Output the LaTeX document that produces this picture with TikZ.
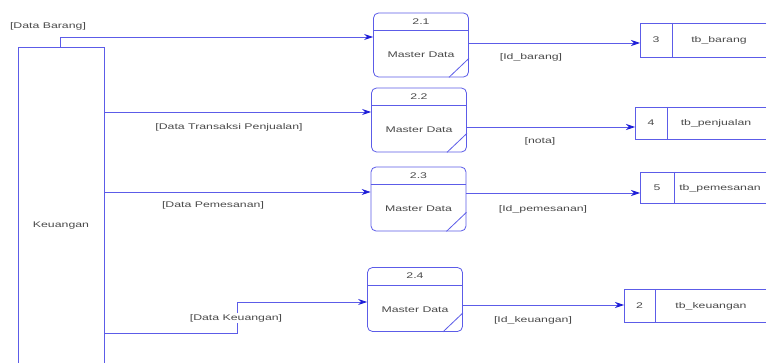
\documentclass[tikz,border=0pt]{standalone}
\usepackage{fontspec}
\setmainfont{Liberation Sans}
\usetikzlibrary{arrows.meta,calc}
\definecolor{ln}{HTML}{5C5CE8}
\definecolor{ah}{HTML}{1E1ED8}
\definecolor{tx}{HTML}{4A4A4A}
\newcommand\wtxt[1]{\scalebox{1.5}[1]{#1}}
\newcommand\mkproc[4]{%
  \node[proc] (#1) at (#2,#3) {};
  \draw[pline] ([yshift=-18pt]#1.north west) -- ([yshift=-18pt]#1.north east);
  \node[lbl] (#1n) at ($(#1.north)+(0,9)$) {\wtxt{#4}};
  \node[lbl] (#1t) at ($(#1.center)+(0,10)$) {\wtxt{Master Data}};
  \draw[pline] ($(#1.south east)+(0,-19)$) -- ($(#1.south east)+(-20,0)$);
}
\newcommand\mkstore[6]{% name, xleft, ytop, ybot, xdiv, number, label
  \draw[pline] (766,#3) -- (#2,#3) -- (#2,#4) -- (766,#4);
  \draw[pline] (#5,#3) -- (#5,#4);
  \node[inner sep=0pt, minimum height={#4-#3}, minimum width=0pt, anchor=west] (#1) at (#2,{(#3+#4)/2}) {};
  \node[lbl] (#1n) at ({(#2+#5)/2},{(#3+#4)/2}) {\wtxt{#6}};
}
\begin{document}
\begin{tikzpicture}[x=1pt,y=-1pt,
  pline/.style={draw=ln, line width=0.8pt},
  flow/.style={draw=ln, line width=0.8pt, -{Stealth[length=9pt,width=6pt,color=ah]}},
  proc/.style={draw=ln, line width=0.8pt, rounded corners=5pt, minimum width=95pt, minimum height=64pt, inner sep=0pt},
  lbl/.style={font=\fontsize{8.2}{9}\selectfont, text=tx, inner sep=1pt},
  ]
\useasboundingbox (0,0) rectangle (776,363);
\fill[white] (0,0) rectangle (776,363);

% Keuangan external entity (open at the bottom)
\draw[pline] (18,363) -- (18,47) -- (104,47) -- (104,363);
\node[lbl] (keu) at (61,226) {\wtxt{Keuangan}};
\coordinate (ktop) at (60,47);
\coordinate (kr) at (104,200);
\coordinate (kq) at (104,333);
\coordinate (kx) at (237,0);

% processes
\mkproc{p1}{421}{45}{2.1}
\mkproc{p2}{419}{120}{2.2}
\mkproc{p3}{418.5}{199}{2.3}
\mkproc{p4}{415}{299.5}{2.4}

% data stores
\mkstore{s3}{640}{23}{57}{672}{3}
\node[lbl] (s3t) at (719,40) {\wtxt{tb\_barang}};
\mkstore{s4}{635}{107}{139}{667}{4}
\node[lbl] (s4t) at (716,123) {\wtxt{tb\_penjualan}};
\mkstore{s5}{640}{172}{203}{674}{5}
\node[lbl] (s5t) at (720,188) {\wtxt{tb\_pemesanan}};
\mkstore{s2}{624}{289}{322}{655}{2}
\node[lbl] (s2t) at (711,306) {\wtxt{tb\_keuangan}};

% incoming flows
\draw[flow] (ktop) |- ([yshift=8pt]p1.west);
\node[lbl] (l1) at (48,26) {\wtxt{[Data Barang]}};
\draw[flow] ([yshift=8pt]p2.west -| kr) -- ([yshift=8pt]p2.west);
\node[lbl] (l2) at (229,127) {\wtxt{[Data Transaksi Penjualan]}};
\draw[flow] ([yshift=7pt]p3.west -| kr) -- ([yshift=7pt]p3.west);
\node[lbl] (l3) at (213,205) {\wtxt{[Data Pemesanan]}};
\draw[flow] (kq) -| ([yshift=-2.5pt]p4.west -| kx) -- ([yshift=-2.5pt]p4.west);
\node[lbl, fill=white] (l4) at (236,318) {\wtxt{[Data Keuangan]}};

% outgoing flows
\draw[flow] ([yshift=2pt]p1.east) -- ([yshift=2pt]p1.east -| s3.west);
\node[lbl] (o1) at (531,57) {\wtxt{[Id\_barang]}};
\draw[flow] ([yshift=-7pt]p2.east) -- ([yshift=-7pt]p2.east -| s4.west);
\node[lbl] (o2) at (540,141) {\wtxt{[nota]}};
\draw[flow] ([yshift=6pt]p3.east) -- ([yshift=6pt]p3.east -| s5.west);
\node[lbl] (o3) at (543,209) {\wtxt{[Id\_pemesanan]}};
\draw[flow] ([yshift=-5.5pt]p4.east) -- ([yshift=-5.5pt]p4.east -| s2.west);
\node[lbl] (o4) at (533,320) {\wtxt{[Id\_keuangan]}};
\end{tikzpicture}
\end{document}
